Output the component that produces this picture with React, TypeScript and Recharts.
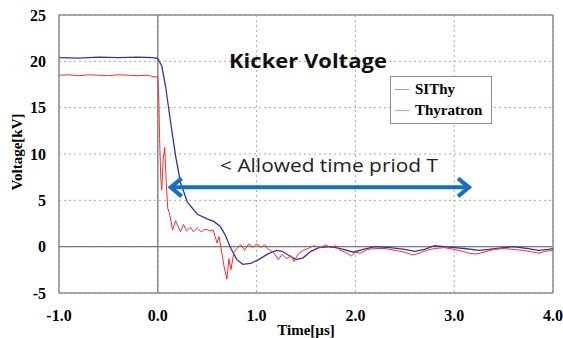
import React from 'react';
import { LineChart, Line, XAxis, YAxis, CartesianGrid, ReferenceLine, Legend } from 'recharts';

// time in µs, voltage in kV
const sithyTime = [
  -1.0, -0.8, -0.6, -0.4, -0.2, -0.05, 0.0, 0.04, 0.08, 0.13, 0.18, 0.23, 0.3, 0.4, 0.5, 0.57, 0.63,
  0.68, 0.74, 0.8, 0.86, 0.94, 1.02, 1.11, 1.2, 1.26, 1.32, 1.4, 1.47, 1.55, 1.63, 1.75, 1.88, 1.98,
  2.08, 2.2, 2.35, 2.5, 2.6, 2.7, 2.8, 2.9, 3.0, 3.1, 3.25, 3.35, 3.5, 3.6, 3.75, 3.85, 3.95, 4.0,
];
const sithyVoltage = [
  20.4, 20.35, 20.45, 20.4, 20.45, 20.4, 20.3, 19.5, 17.2, 13.4, 9.8, 6.9, 4.8, 3.5, 3.0, 2.7, 2.2,
  1.3, -0.2, -1.4, -1.9, -1.8, -1.4, -0.8, -0.4, -0.5, -0.9, -1.4, -1.2, -0.5, -0.1, 0.0, -0.3, -0.6,
  -0.3, 0.0, -0.1, -0.3, -0.5, -0.3, 0.1, 0.0, -0.1, -0.2, -0.4, -0.3, -0.1, 0.0, -0.2, -0.4, -0.3, -0.2,
];

const thyTime = [
  -1.0, -0.9, -0.8, -0.7, -0.6, -0.5, -0.4, -0.3, -0.2, -0.1, -0.05, 0.0, 0.01, 0.02, 0.03, 0.04,
  0.055, 0.07, 0.085, 0.1, 0.12, 0.15, 0.18, 0.2, 0.23, 0.26, 0.29, 0.33, 0.36, 0.4, 0.44, 0.48,
  0.53, 0.56, 0.6, 0.62, 0.65, 0.67, 0.7, 0.72, 0.74, 0.77, 0.8, 0.84, 0.88, 0.92, 0.96, 1.0, 1.05,
  1.08, 1.12, 1.17, 1.22, 1.26, 1.3, 1.35, 1.38, 1.42, 1.47, 1.52, 1.58, 1.65, 1.7, 1.75, 1.8, 1.85,
  1.9, 1.96, 2.0, 2.05, 2.12, 2.2, 2.3, 2.4, 2.5, 2.58, 2.65, 2.72, 2.8, 2.9, 3.0, 3.08, 3.15, 3.22,
  3.3, 3.4, 3.5, 3.6, 3.7, 3.8, 3.86, 3.92, 4.0,
];
const thyVoltage = [
  18.5, 18.55, 18.45, 18.55, 18.5, 18.45, 18.55, 18.5, 18.45, 18.5, 18.35, 18.3, 16.0, 11.0, 7.5, 6.1,
  9.5, 10.7, 7.0, 4.2, 3.5, 1.8, 2.8, 2.3, 1.6, 2.4, 1.7, 2.1, 1.6, 2.0, 1.6, 1.9,
  1.7, 1.8, 0.4, 1.1, -0.8, -2.1, -3.5, -1.3, -2.5, -0.6, -0.2, 0.2, -0.4, 0.3, -0.1, 0.3, -0.1,
  0.2, -0.3, -0.6, -1.4, -0.8, -1.3, -1.0, -1.6, -0.8, -0.4, -0.2, 0.1, -0.1, 0.2, -0.1, 0.1, -0.4,
  -0.6, -1.0, -0.6, -0.7, -0.3, -0.2, -0.2, -0.4, -0.6, -0.9, -0.7, -0.4, -0.2, -0.1, -0.3, -0.5, -0.7, -0.8,
  -0.6, -0.3, -0.2, -0.3, -0.4, -0.6, -0.7, -0.5, -0.4,
];

const xTicks = [-1, 0, 1, 2, 3, 4];
const yTicks = [-5, 0, 5, 10, 15, 20, 25];
const seriesNames = ['SIThy', 'Thyratron'];
const seriesColors = ['#34349c', '#ff2b2b'];
const arrowSpan = [0.11, 3.17];
const arrowLevel = 6.4;

const sithyData = sithyTime.map((t, i) => ({ t, v: sithyVoltage[i] }));
const thyData = thyTime.map((t, i) => ({ t, v: thyVoltage[i] }));

const serif = '"Liberation Serif", "Times New Roman", serif';
const sans = '"Open Sans", sans-serif';
const frame = '#8c8c8c';

const ArrowShape = (p: any) => {
  const { x1, y1, x2, y2 } = p;
  const c = '#1570c4';
  return (
    <g>
      <line x1={x1 + 2} y1={y1} x2={x2 - 2} y2={y2} stroke={c} strokeWidth={4} />
      <polyline points={`${x1 + 13},${y1 - 9} ${x1 + 2},${y1} ${x1 + 13},${y1 + 9}`} fill="none" stroke={c} strokeWidth={4} />
      <polyline points={`${x2 - 13},${y2 - 9} ${x2 - 2},${y2} ${x2 - 13},${y2 + 9}`} fill="none" stroke={c} strokeWidth={4} />
    </g>
  );
};

const LegendBox = () => (
  <div style={{ width: 92, border: '1.5px solid #8c8c8c', background: '#fff', padding: '2px 4px', fontFamily: serif, fontWeight: 'bold', fontSize: 15, lineHeight: '21px' }}>
    {seriesNames.map((n, i) => (
      <div key={n} style={{ display: 'flex', alignItems: 'center' }}>
        <span style={{ display: 'inline-block', width: 14, height: 0, borderTop: `1.5px solid ${seriesColors[i]}`, opacity: 0.5, marginRight: 6 }} />
        {n}
      </div>
    ))}
  </div>
);

export default function App() {
  return (
    <div style={{ position: 'absolute', left: 0, top: 0, width: 563, height: 338, background: '#fff' }}>
      <LineChart width={563} height={338} margin={{ top: 15, right: 10, left: 0, bottom: 0 }}>
        <CartesianGrid stroke="#a8a8a8" strokeDasharray="2 3" />
        <XAxis
          dataKey="t"
          type="number"
          domain={[-1, 4]}
          ticks={xTicks}
          allowDataOverflow
          height={45}
          tickSize={0}
          tickMargin={17}
          axisLine={{ stroke: frame, strokeWidth: 1.5 }}
          tickFormatter={(v: number) => v.toFixed(1)}
          tick={{ fontFamily: serif, fontWeight: 'bold', fontSize: 16, fill: '#000' }}
          label={{ value: 'Time[µs]', position: 'insideBottom', offset: 3, style: { fontFamily: serif, fontWeight: 'bold', fontSize: 15, fill: '#000' } }}
        />
        <YAxis
          type="number"
          domain={[-5, 25]}
          ticks={yTicks}
          width={59}
          tickSize={0}
          tickMargin={13}
          axisLine={{ stroke: frame, strokeWidth: 1.5 }}
          tick={{ fontFamily: serif, fontWeight: 'bold', fontSize: 16, fill: '#000' }}
          label={{
            content: (p: any) => {
              const vb = p.viewBox;
              const cx = 17;
              const cy = vb.y + vb.height / 2 - 2;
              return (
                <text x={cx} y={cy} transform={`rotate(-90 ${cx} ${cy})`} textAnchor="middle" dominantBaseline="central" style={{ fontFamily: serif, fontWeight: 'bold', fontSize: 15 }}>
                  Voltage[kV]
                </text>
              );
            },
          }}
        />
        <ReferenceLine x={0} stroke="#7a7a7a" strokeWidth={1.3} />
        <ReferenceLine y={0} stroke="#7a7a7a" strokeWidth={1.3} />
        <ReferenceLine x={4} stroke={frame} strokeWidth={1.5} />
        <ReferenceLine y={25} stroke={frame} strokeWidth={1.5} />
        <Line data={sithyData} dataKey="v" name={seriesNames[0]} stroke={seriesColors[0]} strokeWidth={1.3} dot={false} isAnimationActive={false} />
        <Line data={thyData} dataKey="v" name={seriesNames[1]} stroke={seriesColors[1]} strokeWidth={1} dot={false} isAnimationActive={false} />
        <ReferenceLine
          segment={[{ x: arrowSpan[0], y: arrowLevel }, { x: arrowSpan[1], y: arrowLevel }]}
          shape={ArrowShape}
        />
        <Legend layout="vertical" align="center" verticalAlign="middle" content={LegendBox} wrapperStyle={{ position: 'absolute', left: 390, top: 76, width: 'auto' }} />
      </LineChart>
      <div style={{ position: 'absolute', left: 229, top: 47, fontFamily: sans, fontWeight: 'bold', fontSize: 20, color: '#111', whiteSpace: 'nowrap', transform: 'scaleX(1.1)', transformOrigin: 'left center' }}>
        Kicker Voltage
      </div>
      <div style={{ position: 'absolute', left: 220, top: 152, fontFamily: sans, fontSize: 19, color: '#222', whiteSpace: 'nowrap', transform: 'scaleX(1.1)', transformOrigin: 'left center' }}>
        {'< Allowed time priod T'}
      </div>
    </div>
  );
}
